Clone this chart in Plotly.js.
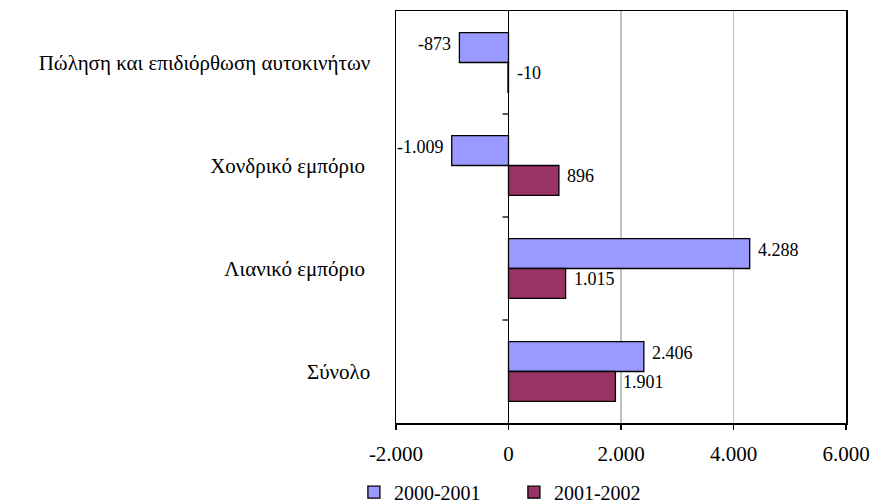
<!DOCTYPE html>
<html>
<head>
<meta charset="utf-8">
<script src="https://cdn.plot.ly/plotly-3.0.1.min.js"></script>
<style>html,body{margin:0;padding:0;background:#fff;}#chart{width:875px;height:503px;}</style>
</head>
<body>
<div id="chart"></div>
<script>
var categories = ["Πώληση και επιδιόρθωση αυτοκινήτων", "Χονδρικό εμπόριο ", "Λιανικό εμπόριο ", "Σύνολο"];
var series1Name = "2000-2001";
var series2Name = "2001-2002";
var series1 = [-873, -1009, 4288, 2406];
var series2 = [-10, 896, 1015, 1901];
var xTicks = [-2000, 0, 2000, 4000, 6000];

var FONT = "Times New Roman, Liberation Serif, DejaVu Serif, serif";

function fmt(v) {
  var s = Math.abs(v).toString().replace(/\B(?=(\d{3})+(?!\d))/g, ".");
  return (v < 0 ? "-" : "") + s;
}

var traces = [
  {type: "bar", orientation: "h", name: series1Name, y: categories, x: series1,
   marker: {color: "#9999FF", line: {color: "#000", width: 1.3}}},
  {type: "bar", orientation: "h", name: series2Name, y: categories, x: series2,
   marker: {color: "#993366", line: {color: "#000", width: 1.3}}}
];

var annotations = [];
var groupW = 0.58;
[series1, series2].forEach(function(ser, si) {
  ser.forEach(function(v, i) {
    var off = (si === 0 ? -1 : 1) * groupW / 4;
    var right = v >= 0 || Math.abs(v) < 100;
    annotations.push({
      x: right ? Math.max(v, 0) : v, y: i + off, xref: "x", yref: "y",
      text: fmt(v), showarrow: false,
      xanchor: right ? "left" : "right", xshift: right ? 6 : -6, yshift: 4,
      font: {family: FONT, size: 18, color: "#000"}
    });
  });
});

var shapes = [];
for (var k = 0; k < categories.length - 1; k++) {
  shapes.push({type: "line", xref: "x", yref: "y", xsizemode: "pixel", xanchor: 0,
    x0: -6, x1: 0, y0: k + 0.5, y1: k + 0.5, line: {color: "#000", width: 1.3}});
}

var layout = {
  width: 875, height: 503,
  margin: {l: 396, r: 29, t: 11, b: 80, autoexpand: false},
  paper_bgcolor: "#fff", plot_bgcolor: "#fff",
  font: {family: FONT, size: 21, color: "#000"},
  separators: ",.",
  barmode: "group",
  bargap: 0.42, bargroupgap: 0,
  showlegend: true,
  legend: {orientation: "h", x: 0.262, xanchor: "center", y: -0.168, yanchor: "middle",
    font: {family: FONT, size: 20, color: "#000"}, itemwidth: 30, tracegroupgap: 0,
    entrywidth: 115},
  xaxis: {range: [-2000, 6000], tickvals: xTicks, ticktext: xTicks.map(fmt),
    showgrid: true, gridcolor: "#c0c0c0", gridwidth: 1.3,
    zeroline: true, zerolinecolor: "#000", zerolinewidth: 1.3,
    showline: true, linecolor: "#000", linewidth: 1.5, mirror: true,
    ticks: "outside", ticklen: 5, tickcolor: "#000", tickwidth: 1.3,
    ticklabelstandoff: 6, fixedrange: true, automargin: false},
  yaxis: {autorange: "reversed", showline: true, linecolor: "#000", linewidth: 1.5, mirror: true,
    ticks: "", showgrid: false, ticklabelstandoff: 20, fixedrange: true, automargin: false},
  annotations: annotations,
  shapes: shapes
};

Plotly.newPlot("chart", traces, layout, {displayModeBar: false, staticPlot: true});
</script>
</body>
</html>
